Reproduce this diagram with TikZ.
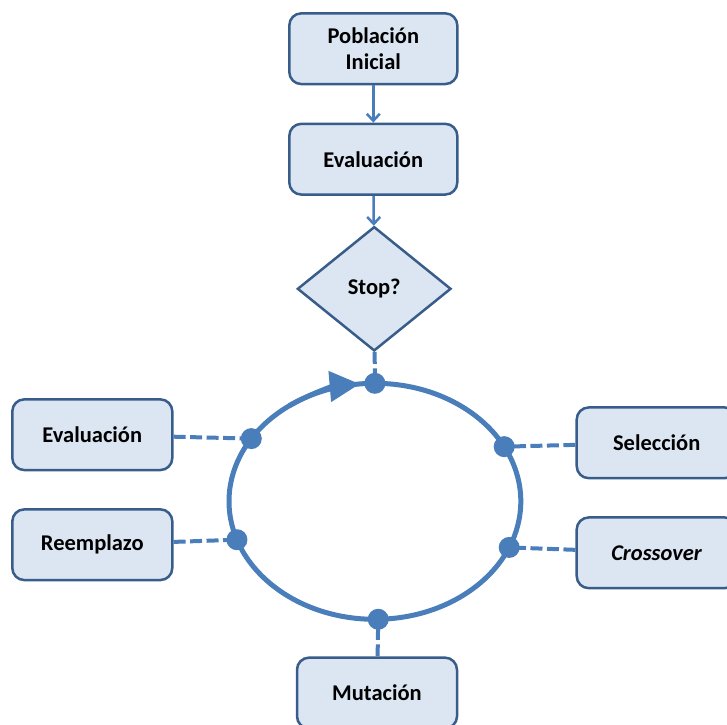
\documentclass[tikz,border=0pt]{standalone}
\usepackage{fontspec}
\setmainfont{Carlito}
\usetikzlibrary{shapes.geometric,arrows.meta,calc}
\definecolor{boxfill}{HTML}{DCE6F2}
\definecolor{boxline}{HTML}{385D8A}
\definecolor{flow}{HTML}{4A7EBB}

\begin{document}
\begin{tikzpicture}[x=1pt,y=-1pt,
  label text/.style={font=\fontsize{22.5}{26.5}\selectfont\bfseries},
  box/.style={label text, draw=boxline, fill=boxfill, line width=2.5pt,
    rounded corners=12pt, minimum width=160pt, minimum height=70.7pt,
    inner sep=0pt, align=center},
  decision/.style={label text, diamond, draw=boxline, fill=boxfill,
    line width=2.5pt, minimum width=153.7pt, minimum height=124.3pt, inner sep=0pt},
  flowarrow/.style={draw=flow, line width=2.5pt,
    -{Straight Barb[length=7pt,width=13pt,line width=2.5pt]}},
  ring/.style={draw=flow, line width=5pt},
  conn/.style={draw=flow, line width=4pt, dash pattern=on 12pt off 4.5pt},
  dot/.style={circle, fill=flow, inner sep=0pt, minimum size=21pt}]

\useasboundingbox (0,0) rectangle (727,724);
\clip (0,0) rectangle (727,724);

% main flow
\node[box, minimum width=168pt] (pop) at (373.3,48.7) {Población\\Inicial};
\node[box, minimum width=168pt] (eval) at (373.3,159.2) {Evaluación};
\node[decision] (stop) at (374.2,288.8) {Stop?};
\draw[flowarrow] (pop) -- (eval);
\draw[flowarrow] (eval) -- (stop);

% operator boxes around the cycle
\node[box] (evl) at (92.3,434.7) {Evaluación};
\node[box] (rep) at (92.3,544.7) {Reemplazo};
\node[box] (sel) at (656.7,442.8) {Selección};
\node[box] (cro) at (656.7,552.8) {\textit{Crossover}};
\node[box] (mut) at (377,693) {Mutación};

% the cycle
\coordinate (c) at (374.9,501.3);
\draw[ring] (c) ellipse [x radius=145.9, y radius=118];
\draw[ring, -{Triangle[length=30pt,width=30pt]}]
  ($(c)+(234:145.9 and 118)$) arc[start angle=234, end angle=264, x radius=145.9, y radius=118];

\coordinate (ptop) at ($(c)+(270:145.9 and 118)$);
\coordinate (pevl) at ($(c)+(212.1:145.9 and 118)$);
\coordinate (prep) at ($(c)+(161:145.9 and 118)$);
\coordinate (psel) at ($(c)+(332.4:145.9 and 118)$);
\coordinate (pcro) at ($(c)+(23:145.9 and 118)$);
\coordinate (pmut) at ($(c)+(88.7:145.9 and 118)$);

% dashed links from the boxes to the cycle
\draw[conn] (stop) -- (ptop);
\draw[conn] (evl) -- (pevl);
\draw[conn] (rep) -- (prep);
\draw[conn] (sel) -- (psel);
\draw[conn] (cro) -- (pcro);
\draw[conn] (mut) -- (pmut);

% junction dots
\foreach \p in {ptop,pevl,prep,psel,pcro,pmut}
  \node[dot] at (\p) {};
\end{tikzpicture}
\end{document}
